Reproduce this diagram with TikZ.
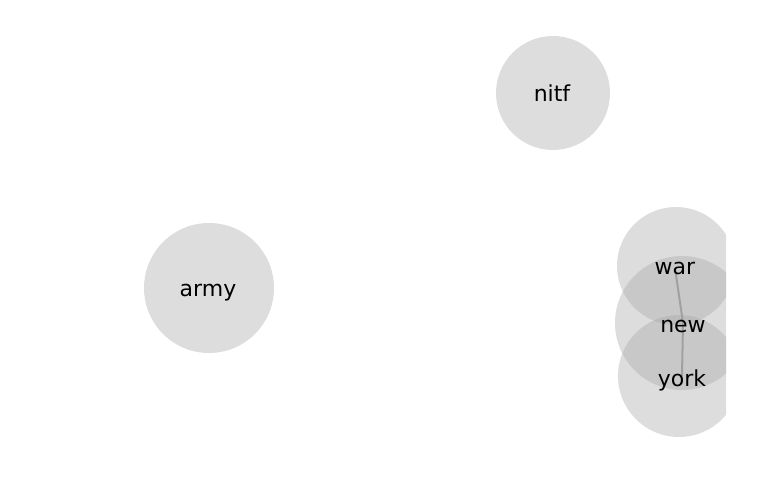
\documentclass[tikz,border=0pt]{standalone}
\usepackage{fontspec}
\setmainfont{DejaVu Sans}
\begin{document}
\begin{tikzpicture}[x=1pt,y=-1pt,
  blob/.style={circle,fill={rgb,255:red,166;green,166;blue,166},fill opacity=0.38,draw=none,inner sep=0pt},
  word/.style={font=\fontsize{22}{26}\selectfont,text=black,inner sep=0pt,anchor=base},
  link/.style={draw={rgb,255:red,160;green,160;blue,160},line width=2pt}]
\useasboundingbox (0,0) rectangle (769,500);
\begin{scope}
\clip (0,0) rectangle (726,500);
\node[blob,minimum size=114pt] (cnitf) at (553,93) {};
\node[blob,minimum size=130pt] (carmy) at (209,288) {};
\node[blob,minimum size=118pt] (cwar) at (676,266) {};
\node[blob,minimum size=134pt] (cnew) at (682,323) {};
\node[blob,minimum size=122pt] (cyork) at (679,376) {};
\end{scope}
\coordinate (pwar) at (675,268);
\coordinate (pnew) at (683,323);
\coordinate (pyork) at (682,376);
\draw[link] (pwar) -- (pnew) -- (pyork);
\node[word] (nitf) at (552,102) {nitf};
\node[word] (army) at (208,296.5) {army};
\node[word] (war) at (675,274.5) {war};
\node[word] (new) at (683,332) {new};
\node[word] (york) at (682,386) {york};
\end{tikzpicture}
\end{document}
